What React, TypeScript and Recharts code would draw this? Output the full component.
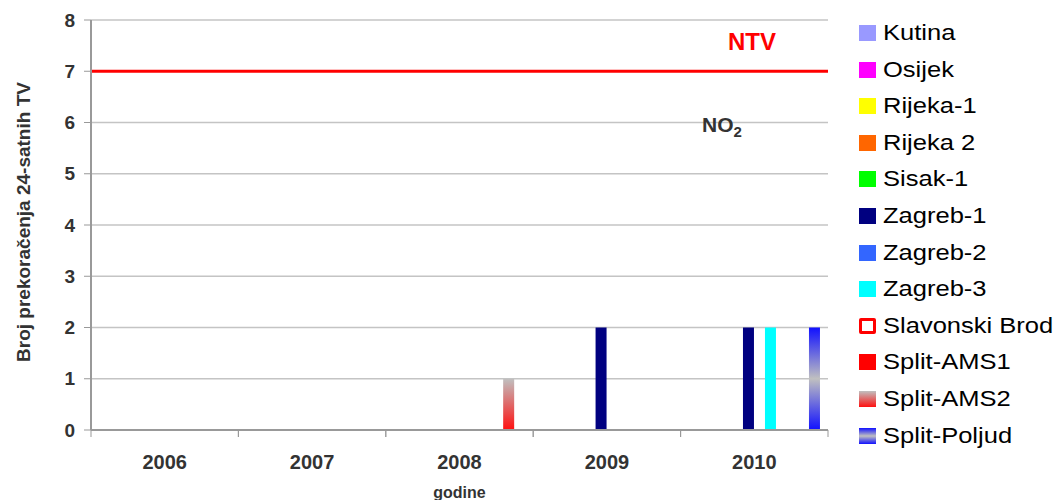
import {
  Bar,
  BarChart,
  CartesianGrid,
  ReferenceLine,
  XAxis,
  YAxis,
} from "recharts";

const years = ["2006", "2007", "2008", "2009", "2010"];

const stations = [
  "Kutina",
  "Osijek",
  "Rijeka-1",
  "Rijeka 2",
  "Sisak-1",
  "Zagreb-1",
  "Zagreb-2",
  "Zagreb-3",
  "Slavonski Brod",
  "Split-AMS1",
  "Split-AMS2",
  "Split-Poljud",
];

// exceedances per station, one value per year
const kutina = [0, 0, 0, 0, 0];
const osijek = [0, 0, 0, 0, 0];
const rijeka1 = [0, 0, 0, 0, 0];
const rijeka2 = [0, 0, 0, 0, 0];
const sisak1 = [0, 0, 0, 0, 0];
const zagreb1 = [0, 0, 0, 2, 2];
const zagreb2 = [0, 0, 0, 0, 0];
const zagreb3 = [0, 0, 0, 0, 2];
const slavonskiBrod = [0, 0, 0, 0, 0];
const splitAms1 = [0, 0, 0, 0, 0];
const splitAms2 = [0, 0, 1, 0, 0];
const splitPoljud = [0, 0, 0, 0, 2];

const seriesValues = [
  kutina,
  osijek,
  rijeka1,
  rijeka2,
  sisak1,
  zagreb1,
  zagreb2,
  zagreb3,
  slavonskiBrod,
  splitAms1,
  splitAms2,
  splitPoljud,
];

const yTicks = [0, 1, 2, 3, 4, 5, 6, 7, 8];
const limitValue = 7;

const colors = [
  "#9999ff",
  "#ff00ff",
  "#ffff00",
  "#ff6600",
  "#00ff00",
  "#000080",
  "#3366ff",
  "#00ffff",
  "#ffffff",
  "#ff0000",
  "url(#gradAms2)",
  "url(#gradPoljud)",
];

const data = years.map((year, i) => {
  const row: Record<string, string | number> = { year };
  stations.forEach((s, k) => {
    row[s] = seriesValues[k][i];
  });
  return row;
});

const FONT = "'Liberation Sans', Arial, sans-serif";
const PLOT_LEFT = 91;
const PLOT_RIGHT = 828;
const HALF_BAND = (PLOT_RIGHT - PLOT_LEFT) / years.length / 2;
const X_TICK_SIZE = 7;
const X_TICK_MARGIN = 18;

const XTick = (props: any) => {
  const { x, y, payload } = props;
  const ay = y - X_TICK_SIZE - X_TICK_MARGIN;
  return (
    <g>
      <line x1={x - HALF_BAND} x2={x - HALF_BAND} y1={ay} y2={ay + X_TICK_SIZE} stroke="#999" />
      <line x1={x + HALF_BAND} x2={x + HALF_BAND} y1={ay} y2={ay + X_TICK_SIZE} stroke="#999" />
      <text
        x={x}
        y={y}
        dy="0.71em"
        textAnchor="middle"
        fontFamily={FONT}
        fontWeight="bold"
        fontSize={20}
        fill="#333"
      >
        {payload.value}
      </text>
    </g>
  );
};

const LegendIcon = ({ index }: { index: number }) => {
  const base: React.CSSProperties = {
    width: 17,
    height: 16,
    boxSizing: "border-box",
    marginRight: 7,
    flex: "none",
  };
  if (index === 8) {
    return <div style={{ ...base, background: "#fff", border: "3px solid #ff0000", borderRadius: 2 }} />;
  }
  if (index === 10) {
    return <div style={{ ...base, background: "linear-gradient(#c0c0c0, #ff1010)" }} />;
  }
  if (index === 11) {
    return (
      <div
        style={{
          ...base,
          background: "linear-gradient(#1010ff, #c0c0c0 50%, #1010ff)",
        }}
      />
    );
  }
  return <div style={{ ...base, background: colors[index] }} />;
};

export default function App() {
  return (
    <div
      style={{
        position: "absolute",
        left: 0,
        top: 0,
        width: 1060,
        height: 500,
        background: "#fff",
        overflow: "hidden",
        fontFamily: FONT,
      }}
    >
      <BarChart
        width={1060}
        height={500}
        data={data}
        margin={{ top: 20, right: 232, bottom: 0, left: 0 }}
        barCategoryGap="5%"
        barGap={0}
      >
        <defs>
          <linearGradient id="gradAms2" x1="0" y1="0" x2="0" y2="1">
            <stop offset="0%" stopColor="#c0c0c0" />
            <stop offset="100%" stopColor="#ff1010" />
          </linearGradient>
          <linearGradient id="gradPoljud" x1="0" y1="0" x2="0" y2="1">
            <stop offset="0%" stopColor="#1010ff" />
            <stop offset="50%" stopColor="#c0c0c0" />
            <stop offset="100%" stopColor="#1010ff" />
          </linearGradient>
        </defs>

        <CartesianGrid vertical={false} stroke="#c4c4c4" strokeWidth={1.5} />

        <XAxis
          dataKey="year"
          height={70}
          tickLine={false}
          tickSize={X_TICK_SIZE}
          tickMargin={X_TICK_MARGIN}
          axisLine={{ stroke: "#999", strokeWidth: 2 }}
          tick={<XTick />}
          interval={0}
          label={(p: any) => {
            const vb = p.viewBox;
            return (
              <text
                x={vb.x + vb.width / 2}
                y={vb.y + 68}
                textAnchor="middle"
                fontFamily={FONT}
                fontWeight="bold"
                fontSize={16}
                fill="#333"
              >
                godine
              </text>
            );
          }}
        />
        <XAxis
          xAxisId="top"
          orientation="top"
          dataKey="year"
          height={0}
          tick={false}
          tickLine={false}
          axisLine={{ stroke: "#999", strokeWidth: 1.5 }}
        />

        <YAxis
          width={91}
          domain={[0, 8]}
          ticks={yTicks}
          interval={0}
          tickSize={7}
          tickMargin={9}
          tickLine={{ stroke: "#999" }}
          axisLine={{ stroke: "#999", strokeWidth: 2 }}
          tick={{ fontFamily: FONT, fontWeight: "bold", fontSize: 19, fill: "#333" }}
          label={(p: any) => {
            const vb = p.viewBox;
            const cx = 23;
            const cy = vb.y + vb.height / 2 - 3;
            return (
              <text
                x={cx}
                y={cy}
                transform={`rotate(-90 ${cx} ${cy})`}
                textAnchor="middle"
                dominantBaseline="central"
                fontFamily={FONT}
                fontWeight="bold"
                fontSize={19}
                fill="#333"
              >
                Broj prekoračenja 24-satnih TV
              </text>
            );
          }}
        />
        <YAxis
          yAxisId="right"
          orientation="right"
          width={0}
          domain={[0, 8]}
          tick={false}
          tickLine={false}
          axisLine={{ stroke: "#999", strokeWidth: 1.5 }}
        />

        {stations.map((s, k) => (
          <Bar
            key={s}
            dataKey={s}
            fill={colors[k]}
            stroke={k === 8 ? "#ff0000" : "none"}
            isAnimationActive={false}
          />
        ))}

        <ReferenceLine
          y={limitValue}
          stroke="#ff0000"
          strokeWidth={3}
          label={(p: any) => {
            const vb = p.viewBox;
            return (
              <text
                x={vb.x + vb.width - 76}
                y={vb.y - 21}
                textAnchor="middle"
                fontFamily={FONT}
                fontWeight="bold"
                fontSize={24}
                fill="#ff0000"
              >
                NTV
              </text>
            );
          }}
        />
        <ReferenceLine
          y={6}
          stroke="none"
          label={(p: any) => {
            const vb = p.viewBox;
            return (
              <text
                x={vb.x + vb.width - 126}
                y={vb.y + 9}
                textAnchor="start"
                fontFamily={FONT}
                fontWeight="bold"
                fontSize={21}
                fill="#333"
              >
                NO
                <tspan fontSize={15} dy={5}>
                  2
                </tspan>
              </text>
            );
          }}
        />
      </BarChart>

      <div style={{ position: "absolute", left: 859, top: 0 }}>
        {stations.map((s, k) => (
          <div
            key={s}
            style={{
              position: "absolute",
              left: 0,
              top: 15 + k * 36.6,
              height: 36,
              display: "flex",
              alignItems: "center",
              whiteSpace: "nowrap",
            }}
          >
            <LegendIcon index={k} />
            <span
              style={{
                display: "inline-block",
                fontSize: 22,
                color: "#000",
                transform: "scaleX(1.16)",
                transformOrigin: "left center",
              }}
            >
              {s}
            </span>
          </div>
        ))}
      </div>
    </div>
  );
}
